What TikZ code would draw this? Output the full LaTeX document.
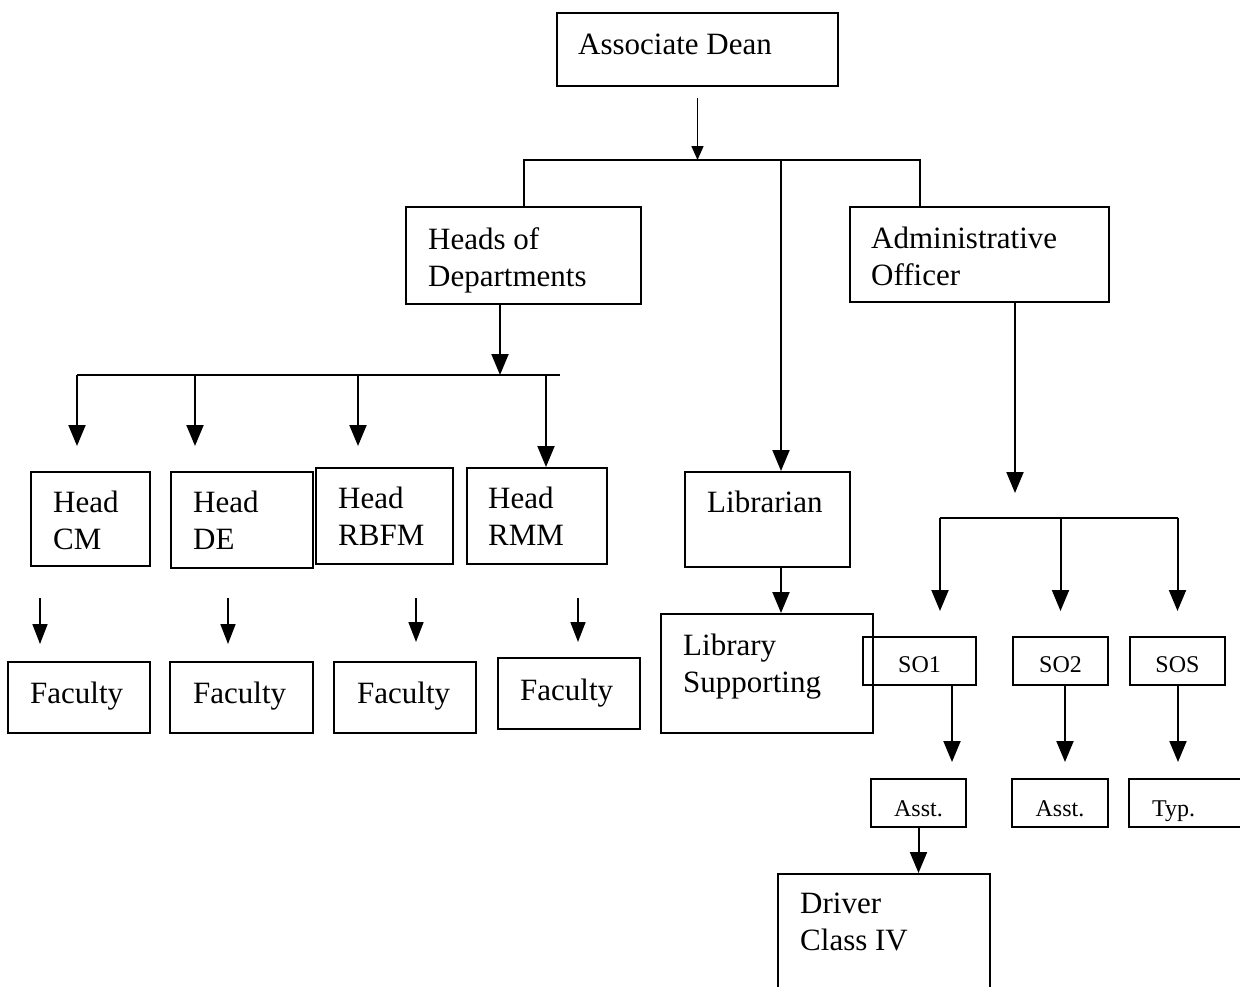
\documentclass[tikz,border=0pt]{standalone}
\usepackage{fontspec}
\setmainfont{Liberation Serif}
\usetikzlibrary{arrows.meta,fit}

\begin{document}
\begin{tikzpicture}[x=1pt,y=-1pt,
  box/.style={draw, line width=2pt, inner sep=0pt},
  lbl/.style={anchor=north west, inner sep=0pt, align=left,
              font=\fontsize{31}{37}\selectfont},
  slbl/.style={anchor=base, inner sep=0pt, font=\fontsize{24}{28}\selectfont},
  link/.style={line width=2pt},
  arr/.style={link, -{Triangle[length=21pt,width=17pt]}},
  arrf/.style={line width=1.7pt, -{Triangle[length=20pt,width=15pt]}},
  arrs/.style={line width=1.5pt, -{Triangle[length=14pt,width=12pt]}},
]
\fill[white] (0,0) rectangle (1240,986);
\useasboundingbox (0,0) rectangle (1240,986);

% ---- boxes ----
\node[box, fit={(557,13) (838,86)}]   (dean)   {};
\node[box, fit={(406,207) (641,304)}] (heads)  {};
\node[box, fit={(850,207) (1109,302)}] (adm)   {};
\node[box, fit={(31,472) (150,566)}]  (hcm)    {};
\node[box, fit={(171,472) (313,568)}] (hde)    {};
\node[box, fit={(316,468) (453,564)}] (hrbfm)  {};
\node[box, fit={(467,468) (607,564)}] (hrmm)   {};
\node[box, fit={(685,472) (850,567)}] (lib)    {};
\node[box, fit={(661,614) (873,733)}] (libsup) {};
\node[box, fit={(8,662) (150,733)}]   (fac1)   {};
\node[box, fit={(170,662) (313,733)}] (fac2)   {};
\node[box, fit={(334,662) (476,733)}] (fac3)   {};
\node[box, fit={(498,658) (640,729)}] (fac4)   {};
\node[box, fit={(863,637) (976,685)}] (so1)    {};
\node[box, fit={(1013,637) (1108,685)}] (so2)  {};
\node[box, fit={(1130,637) (1225,685)}] (sos)  {};
\node[box, fit={(871,779) (966,827)}] (asst1)  {};
\node[box, fit={(1012,779) (1108,827)}] (asst2) {};
\node[box, fit={(1129,779) (1262,827)}] (typ)  {};
\node[box, fit={(778,874) (990,1000)}] (driver) {};

% ---- labels ----
\node[lbl] (dean-t)   at (578,34)  {Associate Dean};
\node[lbl] (heads-t)  at (428,227) {Heads of\\Departments};
\node[lbl] (adm-t)    at (871,227) {Administrative\\Officer};
\node[lbl] (hcm-t)    at (53,491)  {Head\\CM};
\node[lbl] (hde-t)    at (193,491) {Head\\DE};
\node[lbl] (hrbfm-t)  at (338,487) {Head\\RBFM};
\node[lbl] (hrmm-t)   at (488,487) {Head\\RMM};
\node[lbl] (lib-t)    at (707,491) {Librarian};
\node[lbl] (libsup-t) at (683,634) {Library\\Supporting};
\node[lbl] (fac1-t)   at (30,682)  {Faculty};
\node[lbl] (fac2-t)   at (193,682) {Faculty};
\node[lbl] (fac3-t)   at (357,682) {Faculty};
\node[lbl] (fac4-t)   at (520,679) {Faculty};
\node[lbl] (driver-t) at (800,893) {Driver\\Class IV};
\node[slbl] (so1-t)   at (919.5,672) {SO1};
\node[slbl] (so2-t)   at (1060.5,672) {SO2};
\node[slbl] (sos-t)   at (1177.5,672) {SOS};
\node[slbl] (asst1-t) at (918.5,816) {Asst.};
\node[slbl] (asst2-t) at (1060,816) {Asst.};
\node[slbl, anchor=base west] (typ-t) at (1152,816) {Typ.};

% ---- top level: Associate Dean to its three branches ----
\coordinate (t0) at (697.5,160);
\coordinate (tL) at (523.5,160);
\coordinate (tM) at (781,160);
\coordinate (tR) at (920,160);
\draw[arrs, shorten <=11pt] (dean.south) -- (t0);
\draw[link] (heads.north) -- (tL) -- (tR) -- (tR |- adm.north);
\draw[arr] (tM) -- (tM |- lib.north);
\draw[arr] (tM |- lib.south) -- (tM |- libsup.north);

% ---- Heads of Departments to the four heads ----
\coordinate (m0) at (500,375);
\coordinate (mL) at (77,375);
\coordinate (mR) at (560,375);
\coordinate (h2) at (195,375);
\coordinate (h3) at (358,375);
\coordinate (h4) at (546,375);
\draw[arr] (m0 |- heads.south) -- (m0);
\draw[link] (mL) -- (mR);
\draw[arr, shorten >=25pt] (mL) -- (mL |- hcm.north);
\draw[arr, shorten >=25pt] (h2) -- (h2 |- hde.north);
\draw[arr, shorten >=21pt] (h3) -- (h3 |- hrbfm.north);
\draw[arr] (h4) -- (h4 |- hrmm.north);

% ---- heads to faculty ----
\coordinate (f1) at (40,600);
\coordinate (f2) at (228,600);
\coordinate (f3) at (416,600);
\coordinate (f4) at (578,600);
\draw[arrf, shorten <=31pt, shorten >=17pt] (f1 |- hcm.south) -- (f1 |- fac1.north);
\draw[arrf, shorten <=29pt, shorten >=17pt] (f2 |- hde.south) -- (f2 |- fac2.north);
\draw[arrf, shorten <=33pt, shorten >=19pt] (f3 |- hrbfm.south) -- (f3 |- fac3.north);
\draw[arrf, shorten <=33pt, shorten >=15pt] (f4 |- hrmm.south) -- (f4 |- fac4.north);

% ---- Administrative Officer to section officers ----
\coordinate (a0) at (1015,493);
\coordinate (aL) at (940,518);
\coordinate (aM) at (1060.5,518);
\coordinate (aR) at (1177.5,518);
\draw[arr] (a0 |- adm.south) -- (a0);
\draw[link] (aL) -- (aR);
\draw[arr, shorten >=25pt] (aL) -- (aL |- so1.north);
\draw[arr, shorten >=25pt] (aM) -- (aM |- so2.north);
\draw[arr, shorten >=25pt] (aR) -- (aR |- sos.north);

% ---- section officers to assistants ----
\coordinate (s1) at (952,700);
\coordinate (s2) at (1065,700);
\coordinate (s3) at (1178,700);
\draw[arr, shorten >=16pt] (s1 |- so1.south) -- (s1 |- asst1.north);
\draw[arr, shorten >=16pt] (s2 |- so2.south) -- (s2 |- asst2.north);
\draw[arr, shorten >=16pt] (s3 |- sos.south) -- (s3 |- typ.north);
\draw[arr] (asst1.south) -- (asst1.south |- driver.north);
\end{tikzpicture}
\end{document}
